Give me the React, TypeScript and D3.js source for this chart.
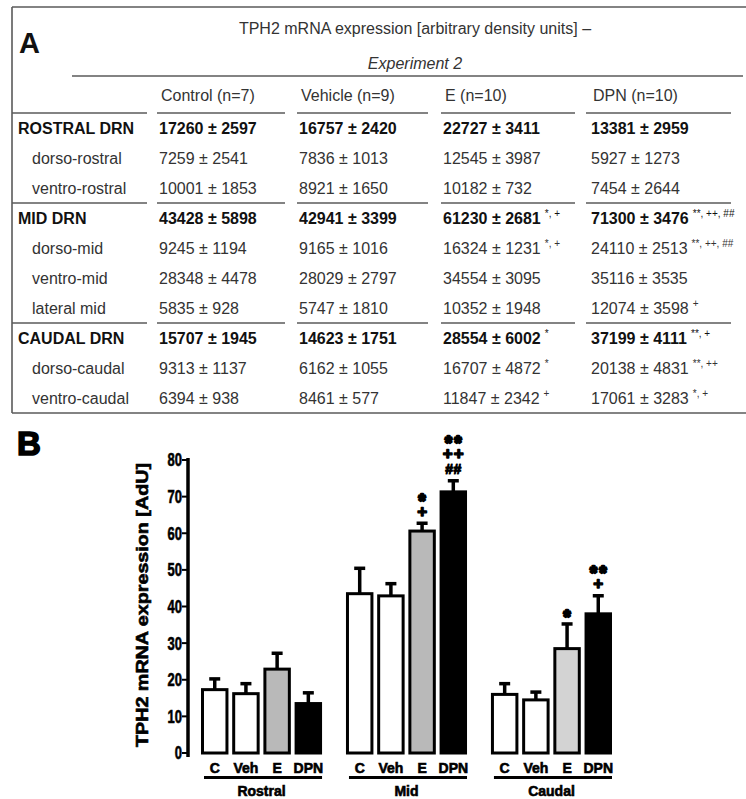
import React from 'react';
import * as d3 from 'd3';

// ---------- Panel A: table data ----------
const tableTitle = 'TPH2 mRNA expression [arbitrary density units] –';
const tableSubtitle = 'Experiment 2';
const columnHeaders = ['Control (n=7)', 'Vehicle (n=9)', 'E (n=10)', 'DPN (n=10)'];
const regionLabels = [
  'ROSTRAL DRN', 'dorso-rostral', 'ventro-rostral',
  'MID DRN', 'dorso-mid', 'ventro-mid', 'lateral mid',
  'CAUDAL DRN', 'dorso-caudal', 'ventro-caudal',
];
const controlMean = [17260, 7259, 10001, 43428, 9245, 28348, 5835, 15707, 9313, 6394];
const controlSem = [2597, 2541, 1853, 5898, 1194, 4478, 928, 1945, 1137, 938];
const controlSig = ['', '', '', '', '', '', '', '', '', ''];
const vehicleMean = [16757, 7836, 8921, 42941, 9165, 28029, 5747, 14623, 6162, 8461];
const vehicleSem = [2420, 1013, 1650, 3399, 1016, 2797, 1810, 1751, 1055, 577];
const vehicleSig = ['', '', '', '', '', '', '', '', '', ''];
const eMean = [22727, 12545, 10182, 61230, 16324, 34554, 10352, 28554, 16707, 11847];
const eSem = [3411, 3987, 732, 2681, 1231, 3095, 1948, 6002, 4872, 2342];
const eSig = ['', '', '', '*, +', '*, +', '', '', '*', '*', '+'];
const dpnMean = [13381, 5927, 7454, 71300, 24110, 35116, 12074, 37199, 20138, 17061];
const dpnSem = [2959, 1273, 2644, 3476, 2513, 3535, 3598, 4111, 4831, 3283];
const dpnSig = ['', '', '', '**, ++, ##', '**, ++, ##', '', '+', '**, +', '**, ++', '*, +'];

// ---------- Panel B: bar chart data ----------
const groups = ['Rostral', 'Mid', 'Caudal'];
const conditions = ['C', 'Veh', 'E', 'DPN'];
const rostralMeans = [17.3, 16.2, 22.9, 13.5];
const rostralErrors = [3.0, 2.8, 4.4, 3.0];
const midMeans = [43.5, 42.9, 60.6, 71.3];
const midErrors = [7.0, 3.4, 2.2, 3.1];
const caudalMeans = [16.0, 14.5, 28.5, 38.0];
const caudalErrors = [3.0, 2.2, 6.8, 5.0];
const rostralSig: string[][] = [[], [], [], []];
const midSig: string[][] = [[], [], ['+', '*'], ['##', '++', '**']];
const caudalSig: string[][] = [[], [], ['*'], ['+', '**']];
const yTicks = [0, 10, 20, 30, 40, 50, 60, 70, 80];
const yAxisTitle = 'TPH2 mRNA expression [AdU]';

const W = 746;
const H = 799;
const FONT = '"Liberation Sans", Arial, Helvetica, sans-serif';

const fillFor = (g: string, c: string) => {
  if (c === 'DPN') return '#000';
  if (c === 'E') return g === 'Caudal' ? '#d3d3d3' : '#b9b9b9';
  return '#fff';
};

function Table() {
  const colX = [159, 299, 443, 591];
  const rowY0 = 128;
  const pitch = 30;
  const segs: [number, number][] = [[12, 147], [157, 285], [297, 428], [441, 575], [586, 731]];
  const cols = [
    { m: controlMean, s: controlSem, sig: controlSig },
    { m: vehicleMean, s: vehicleSem, sig: vehicleSig },
    { m: eMean, s: eSem, sig: eSig },
    { m: dpnMean, s: dpnSem, sig: dpnSig },
  ];
  const isMain = (l: string) => l === l.toUpperCase();
  const sepRows = regionLabels
    .map((l, i) => (isMain(l) && i > 0 ? i : -1))
    .filter((i) => i >= 0);
  const lineColor = '#5a5a5a';
  return (
    <g fontFamily={FONT}>
      <line x1={12} x2={W} y1={7} y2={7} stroke={lineColor} strokeWidth={1.6} />
      <line x1={12} x2={12} y1={7} y2={413} stroke={lineColor} strokeWidth={1.6} />
      <line x1={72} x2={743} y1={76} y2={76} stroke={lineColor} strokeWidth={1.6} />
      <line x1={12} x2={W} y1={413} y2={413} stroke={lineColor} strokeWidth={1.6} />
      <text x={19} y={53} fontSize={29} fontWeight="bold" fill="#111">A</text>
      <text x={415} y={28} dy="0.35em" fontSize={16} textAnchor="middle" fill="#333">{tableTitle}</text>
      <text x={415} y={63} dy="0.35em" fontSize={16} textAnchor="middle" fontStyle="italic" fill="#333">{tableSubtitle}</text>
      {columnHeaders.map((h, i) => (
        <text key={h} x={colX[i] + 2} y={95} dy="0.35em" fontSize={16} fill="#333">{h}</text>
      ))}
      {[113, ...sepRows.map((i) => rowY0 + pitch * i - pitch / 2)].map((y) =>
        segs.map(([a, b], k) => (
          <line key={`${y}-${k}`} x1={a} x2={b} y1={y} y2={y} stroke={lineColor} strokeWidth={1.6} />
        ))
      )}
      {regionLabels.map((l, i) => {
        const y = rowY0 + pitch * i;
        const main = isMain(l);
        return (
          <g key={l}>
            <text x={main ? 18 : 32} y={y} dy="0.35em" fontSize={16}
              fontWeight={main ? 'bold' : 'normal'} fill={main ? '#111' : '#333'}>{l}</text>
            {cols.map((c, ci) => (
              <text key={ci} x={colX[ci]} y={y} dy="0.35em" fontSize={16}
                fontWeight={main ? 'bold' : 'normal'} fill={main ? '#111' : '#333'}>
                {`${c.m[i]} ± ${c.s[i]}`}
                {c.sig[i] ? (
                  <tspan fontSize={10} fontWeight="normal" dx={4} dy={-7}>{c.sig[i]}</tspan>
                ) : null}
              </text>
            ))}
          </g>
        );
      })}
    </g>
  );
}

function BarChart() {
  const means = [rostralMeans, midMeans, caudalMeans];
  const errs = [rostralErrors, midErrors, caudalErrors];
  const sigs = [rostralSig, midSig, caudalSig];
  const y = d3.scaleLinear().domain([0, 80]).range([753, 460]);
  const xg = d3.scaleBand<string>().domain(groups).range([201, 612]).paddingInner(0.165).paddingOuter(0);
  const xc = d3.scaleBand<string>().domain(conditions).range([0, xg.bandwidth()]).paddingInner(0.12).paddingOuter(0);
  const axisX = 188;
  const heavy = { stroke: '#000', strokeWidth: 0.6, paintOrder: 'stroke' as const };
  const symStyle = (s: string) => {
    if (s.startsWith('*')) return { size: 18, k: 0.6, sw: 2.4, ls: 2.5 };
    if (s.startsWith('+')) return { size: 17, k: 0.345, sw: 1.4, ls: 1 };
    return { size: 14, k: 0.36, sw: 1, ls: 0.5 };
  };
  return (
    <g fontFamily={FONT}>
      <text x={17} y={455} fontSize={33} fontWeight="bold" fill="#000" stroke="#000" strokeWidth={1.6}>B</text>
      {/* y axis */}
      <line x1={axisX} x2={axisX} y1={y(80) - 2} y2={y(0) + 4} stroke="#000" strokeWidth={3.5} />
      {yTicks.map((t) => (
        <g key={t}>
          <line x1={axisX - 6} x2={axisX} y1={y(t)} y2={y(t)} stroke="#000" strokeWidth={2} />
          <text transform={`translate(${axisX - 6},${y(t)}) scale(0.72,1)`} dy="0.36em"
            fontSize={18} fontWeight="bold" textAnchor="end" fill="#000" {...heavy}>{t}</text>
        </g>
      ))}
      <text transform={`translate(142,605) rotate(-90)`} dy="0.36em" fontSize={17} fontWeight="bold"
        textAnchor="middle" textLength={284} lengthAdjust="spacingAndGlyphs" fill="#000" {...heavy}>
        {yAxisTitle}
      </text>
      {groups.map((g, gi) => {
        const gx = xg(g) as number;
        return (
          <g key={g}>
            {conditions.map((c, ci) => {
              const x = gx + (xc(c) as number);
              const bw = xc.bandwidth();
              const cx = x + bw / 2;
              const top = y(means[gi][ci]);
              const cap = y(means[gi][ci] + errs[gi][ci]);
              const marks = sigs[gi][ci];
              return (
                <g key={c}>
                  <line x1={cx} x2={cx} y1={top} y2={cap} stroke="#000" strokeWidth={3.5} />
                  <rect x={cx - 5.5} y={cap - 1.5} width={11} height={3.5} fill="#000" />
                  <rect x={x + 1.5} y={top} width={bw - 3} height={y(0) - top}
                    fill={fillFor(g, c)} stroke="#000" strokeWidth={3} />
                  {marks.map((s, si) => {
                    const st = symStyle(s);
                    const centerY = cap - 12 - 15 * si;
                    return (
                      <text key={si} x={cx + st.ls / 2} y={centerY + st.k * st.size} fontSize={st.size} fontWeight="bold"
                        textAnchor="middle" letterSpacing={st.ls} fill="#000" stroke="#000"
                        strokeWidth={st.sw} strokeLinejoin="round">{s}</text>
                    );
                  })}
                  <text x={cx} y={773} fontSize={14} fontWeight="bold" textAnchor="middle" fill="#000" {...heavy}>{c}</text>
                </g>
              );
            })}
            <line x1={gx + 3} x2={gx + xg.bandwidth()} y1={777.5} y2={777.5} stroke="#000" strokeWidth={3} />
            <text x={gx + xg.bandwidth() / 2} y={796} fontSize={14} fontWeight="bold" textAnchor="middle" fill="#000" {...heavy}>{g}</text>
          </g>
        );
      })}
    </g>
  );
}

export default function App() {
  return (
    <div style={{ position: 'absolute', left: 0, top: 0, width: W, height: H, background: '#fff' }}>
      <svg width={W} height={H} viewBox={`0 0 ${W} ${H}`} style={{ display: 'block' }}>
        <rect x={0} y={0} width={W} height={H} fill="#fff" />
        <Table />
        <BarChart />
      </svg>
    </div>
  );
}
